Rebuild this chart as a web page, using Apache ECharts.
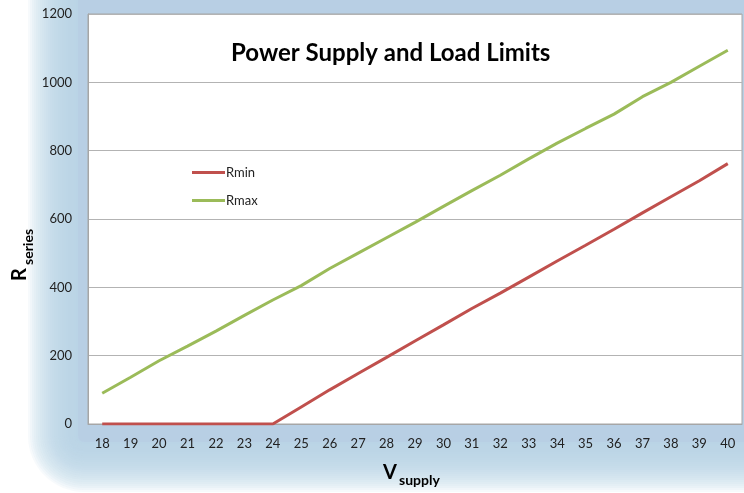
<!DOCTYPE html>
<html>
<head>
<meta charset="utf-8">
<script src="https://cdn.jsdelivr.net/npm/echarts@6/dist/echarts.min.js"></script>
<style>
  html, body { margin: 0; padding: 0; background: #fff; }
  #main { width: 744px; height: 493px; }
</style>
</head>
<body>
<div id="main"></div>
<script>
var vSupply = ['18','19','20','21','22','23','24','25','26','27','28','29','30','31','32','33','34','35','36','37','38','39','40'];
var rMin = [0, 0, 0, 0, 0, 0, 0, 50, 100, 148, 195, 243, 290, 338, 383, 430, 477, 523, 570, 618, 665, 712, 762];
var rMax = [90, 137, 185, 228, 272, 318, 363, 405, 455, 500, 545, 590, 637, 683, 728, 776, 822, 865, 907, 958, 1000, 1047, 1094];

var myChart = echarts.init(document.getElementById('main'));
var font = 'Lato';

// soft blue glow behind the plot area, built from stacked translucent rects
var glow = [];
for (var d = 50; d >= 0; d -= 2) {
	glow.push({
		type : 'rect',
		z : -10,
		silent : true,
		shape : { x : 78 - d, y : -100, width : 900, height : 100 + 442 + d, r : d + 6 },
		style : { fill : 'rgba(185,205,229,0.11)' }
	});
}
glow.push({
	type : 'rect', z : -10, silent : true,
	shape : { x : 78, y : -100, width : 900, height : 542, r : 6 },
	style : { fill : 'rgba(185,205,229,0.6)' }
});

option = {
	animation : false,
	textStyle : { fontFamily : font },
	title : {
		text : 'Power Supply and Load Limits',
		left : 226,
		top : 36,
		textStyle : { fontFamily : font, fontSize : 24, fontWeight : 'bold', color : '#000' }
	},
	legend : {
		data : [ 'Rmin', 'Rmax' ],
		orient : 'vertical',
		left : 192,
		top : 166,
		padding : 0,
		itemGap : 15,
		itemWidth : 33,
		itemHeight : 3,
		icon : 'rect',
		textStyle : { fontFamily : font, fontSize : 13, color : '#222', padding : [0, 0, 0, -4] }
	},
	graphic : glow.concat([ {
		type : 'text',
		x : 20, y : 281,
		rotation : Math.PI / 2,
		style : { text : 'R', fontFamily : font, fontSize : 20, fontWeight : 'bold', fill : '#000', align : 'left', verticalAlign : 'middle' }
	}, {
		type : 'text',
		x : 28, y : 265,
		rotation : Math.PI / 2,
		style : { text : 'series', fontFamily : font, fontSize : 14, fontWeight : 'bold', fill : '#000', align : 'left', verticalAlign : 'middle' }
	}, {
		type : 'text',
		x : 383, y : 473,
		style : { text : 'V', fontFamily : font, fontSize : 20, fontWeight : 'bold', fill : '#000', align : 'left', verticalAlign : 'middle' }
	}, {
		type : 'text',
		x : 399, y : 480,
		style : { text : 'supply', fontFamily : font, fontSize : 14, fontWeight : 'bold', fill : '#000', align : 'left', verticalAlign : 'middle' }
	} ]),
	grid : {
		left : 88,
		right : 2,
		top : 14,
		bottom : 69,
		show : true,
		backgroundColor : '#fff',
		borderColor : '#a6a6a6',
		borderWidth : 1
	},
	xAxis : [ {
		type : 'category',
		boundaryGap : true,
		data : vSupply,
		axisTick : { show : false },
		axisLine : { lineStyle : { color : '#a6a6a6' } },
		axisLabel : { fontFamily : font, fontSize : 13, color : '#222', margin : 13 },
		splitLine : { show : false }
	} ],
	yAxis : [ {
		type : 'value',
		min : 0,
		max : 1200,
		interval : 200,
		axisLine : { show : true, lineStyle : { color : '#a6a6a6' } },
		axisTick : { show : false },
		axisLabel : {
			fontFamily : font, fontSize : 13, color : '#222', margin : 16,
			formatter : function(v) { return String(v); }
		},
		splitLine : { lineStyle : { color : '#b3b3b3', width : 1 } }
	} ],
	series : [ {
		name : 'Rmin',
		type : 'line',
		data : rMin,
		showSymbol : false,
		symbol : 'none',
		itemStyle : { color : '#c0504d' },
		lineStyle : { color : '#c0504d', width : 3 }
	}, {
		name : 'Rmax',
		type : 'line',
		data : rMax,
		showSymbol : false,
		symbol : 'none',
		itemStyle : { color : '#9bbb59' },
		lineStyle : { color : '#9bbb59', width : 3 }
	} ]
};
myChart.setOption(option);
</script>
</body>
</html>
